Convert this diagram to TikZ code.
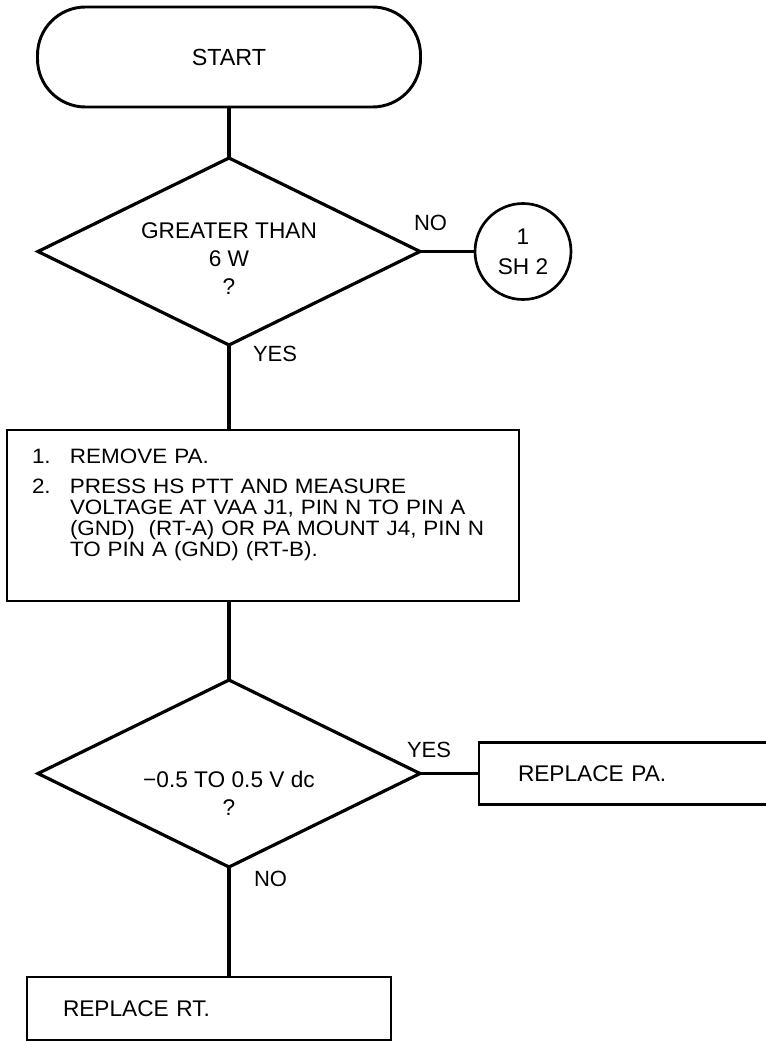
\documentclass[tikz,border=0pt]{standalone}
\usepackage{fontspec}
\setmainfont{Liberation Sans}
\newfontfamily\boxfont[FakeStretch=1.08]{Liberation Sans}
\usepackage{tikz}
\usetikzlibrary{positioning,shapes.geometric}

\begin{document}
\begin{tikzpicture}[
  every node/.style={font=\fontsize{16.5}{20}\selectfont, outer sep=0pt},
  term/.style={draw, line width=2.2pt, rounded corners=36pt, minimum width=287.25pt, minimum height=75pt, font=\fontsize{17.5}{20}\selectfont},
  dec/.style={draw, diamond, line width=2.4pt, minimum width=286.5pt, minimum height=140.25pt, inner sep=0pt},
  dectext/.style={align=center, inner sep=0pt, font=\fontsize{17}{21}\selectfont},
  conn/.style={draw, circle, line width=2pt, minimum size=72pt, inner sep=0pt, align=center, font=\fontsize{17}{22.5}\selectfont},
  task/.style={draw, line width=2pt, align=left, font=\fontsize{17}{20}\selectfont},
  lbl/.style={inner sep=0pt, anchor=base west},
  link/.style={line width=3pt},
  hlink/.style={line width=2pt}
]
\useasboundingbox (0,0) rectangle (574.5pt,-780.75pt);

\node[term] (start) at (171.75pt,-42.75pt) {START};
\node[dec, below=38.25pt of start, label={[dectext, yshift=-5pt]center:{GREATER THAN\\ 6 W\\ ?}}] (dec1) {};
\node[conn, right=41.25pt of dec1] (conn1) {1\\ SH 2};

\node[task, below=63.75pt of dec1, xshift=25.5pt, text width=346.5pt, inner xsep=18.75pt, inner ysep=12pt,
  text height=12.75pt, text depth=91.5pt, font=\boxfont\fontsize{15.6}{15.75}\selectfont] (box1) {%
  \makebox[28.5pt][l]{1.}REMOVE PA.\\[6.75pt]
  \makebox[28.5pt][l]{2.}PRESS HS PTT AND MEASURE\\
  \hspace*{28.5pt}VOLTAGE AT VAA J1, PIN N TO PIN A\\
  \hspace*{28.5pt}(GND)~ (RT-A) OR PA MOUNT J4, PIN N\\
  \hspace*{28.5pt}TO PIN A (GND) (RT-B).};

\node[dec, below=59.25pt of box1, xshift=-25.5pt, label={[dectext, yshift=-15pt]center:{−0.5 TO 0.5 V dc\\ ?}}] (dec2) {};
\node[task, right=44.25pt of dec2, text width=166.5pt, inner xsep=29.25pt, minimum height=46.5pt] (fixpa) {REPLACE PA.};
\node[task, below=82.5pt of dec2, xshift=-15pt, text width=219pt, inner xsep=27pt, minimum height=47.25pt] (fixrt) {REPLACE RT.};

% branch labels
\node[lbl, xshift=-4.5pt, yshift=15.75pt] (no1) at (dec1.east) {NO};
\node[lbl, xshift=18pt, yshift=-12pt] (yes1) at (dec1.south) {YES};
\node[lbl, xshift=-9.75pt, yshift=12pt] (yes2) at (dec2.east) {YES};
\node[lbl, xshift=18.75pt, yshift=-14.25pt] (no2) at (dec2.south) {NO};

\draw[link] (start) -- (dec1);
\draw[hlink] (dec1) -- (conn1);
\draw[link] (dec1.south) -- (dec1.south |- box1.north);
\draw[link] (box1.south -| dec2.north) -- (dec2.north);
\draw[hlink] (dec2) -- (fixpa);
\draw[link] (dec2.south) -- (dec2.south |- fixrt.north);
\end{tikzpicture}
\end{document}
